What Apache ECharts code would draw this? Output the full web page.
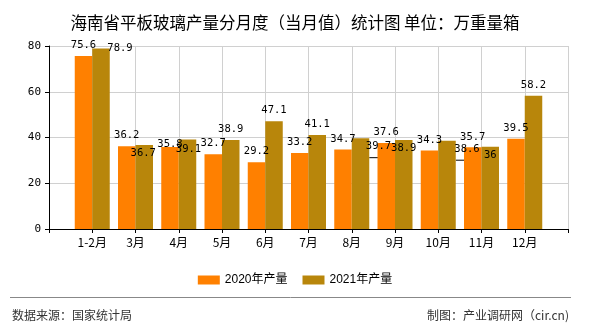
<!DOCTYPE html>
<html>
<head>
<meta charset="utf-8">
<script src="https://cdn.jsdelivr.net/npm/echarts@6/dist/echarts.min.js"></script>
<style>html,body{margin:0;padding:0;background:#fff}#c{width:590px;height:330px}</style>
</head>
<body>
<div id="c"></div>
<script>
const categories = ['1-2月', '3月', '4月', '5月', '6月', '7月', '8月', '9月', '10月', '11月', '12月'];
const production2020 = [75.6, 36.2, 35.8, 32.7, 29.2, 33.2, 34.7, 37.6, 34.3, 35.7, 39.5];
const production2021 = [78.9, 36.7, 39.1, 38.9, 47.1, 41.1, 39.7, 38.9, 38.6, 36, 58.2];
const seriesNames = ['2020年产量', '2021年产量'];
const yMin = 0, yMax = 80, yInterval = 20;

// label displacement (as in the reference's label collision layout)
const labelShift2020 = {2: [0, 8]};
const labelShift2021 = {0: [19, 10], 1: [-1, 19], 2: [1, 20], 6: [18, 19], 7: [0, 19], 8: [20, 19], 9: [0, 19]};
const arrowed2021 = [6, 8];

function buildData(values, shifts, arrowed) {
  const out = ['-'];
  values.forEach((v, i) => {
    const item = {value: v};
    if (shifts[i]) item.label = {offset: shifts[i]};
    if (arrowed.indexOf(i) >= 0) item.labelLine = {show: true};
    out.push(item);
  });
  out.push('-');
  return out;
}

const chart = echarts.init(document.getElementById('c'), null, {renderer: 'canvas'});
const labelFont = '"DejaVu Sans Mono", monospace';
const cjk = '"Noto Sans CJK SC", sans-serif';
const option = {
  animation: false,
  backgroundColor: '#fff',
  title: {
    text: '海南省平板玻璃产量分月度（当月值）统计图 单位：万重量箱',
    left: 'center', top: 9,
    textStyle: {fontFamily: cjk, fontSize: 16.5, fontWeight: 'normal', color: '#000'}
  },
  legend: {
    data: seriesNames,
    left: 'center', top: 269,
    itemWidth: 22, itemHeight: 9, itemGap: 15,
    icon: 'rect',
    textStyle: {fontFamily: '"Liberation Sans", ' + cjk, fontSize: 12, color: '#000'}
  },
  grid: {left: 49, right: 22, top: 46, bottom: 101, containLabel: false},
  xAxis: {
    type: 'category',
    boundaryGap: false,
    data: [''].concat(categories, ['']),
    axisLine: {lineStyle: {color: '#000', width: 1}},
    axisTick: {show: true, length: 4, interval: 0, lineStyle: {color: '#000'}},
    axisLabel: {interval: 0, color: '#000', fontFamily: cjk, fontSize: 12, margin: 7},
    splitLine: {show: true, interval: 0, lineStyle: {color: '#d0d0d0', width: 1}}
  },
  yAxis: {
    type: 'value', min: yMin, max: yMax, interval: yInterval,
    axisLine: {show: true, lineStyle: {color: '#000'}},
    axisTick: {show: true, length: 4, lineStyle: {color: '#000'}},
    axisLabel: {color: '#000', fontFamily: labelFont, fontSize: 11, margin: 8},
    splitLine: {show: true, lineStyle: {color: '#d0d0d0', width: 1}}
  },
  series: [
    {
      name: seriesNames[0], type: 'bar', barWidth: 17.5, barGap: '0%',
      itemStyle: {color: '#FF8000'},
      label: {show: true, position: 'top', distance: 5, color: '#000', fontFamily: labelFont, fontSize: 10.5},
      data: buildData(production2020, labelShift2020, [])
    },
    {
      name: seriesNames[1], type: 'bar', barWidth: 17.5, barGap: '0%',
      itemStyle: {color: '#B8860B'},
      label: {show: true, position: 'top', distance: 5, color: '#000', fontFamily: labelFont, fontSize: 10.5},
      labelLine: {lineStyle: {color: '#000', width: 1}},
      data: buildData(production2021, labelShift2021, arrowed2021)
    }
  ],
  graphic: [
    {type: 'line', shape: {x1: 10, y1: 297.5, x2: 571, y2: 297.5}, style: {stroke: '#888', lineWidth: 1}, silent: true},
    {type: 'text', left: 12, top: 309, style: {text: '数据来源：国家统计局', fill: '#333', font: '12px ' + cjk}},
    {type: 'text', right: 21, top: 309, style: {text: '制图：产业调研网（cir.cn)', fill: '#333', font: '12px ' + cjk}}
  ]
};
chart.setOption(option);
</script>
</body>
</html>
